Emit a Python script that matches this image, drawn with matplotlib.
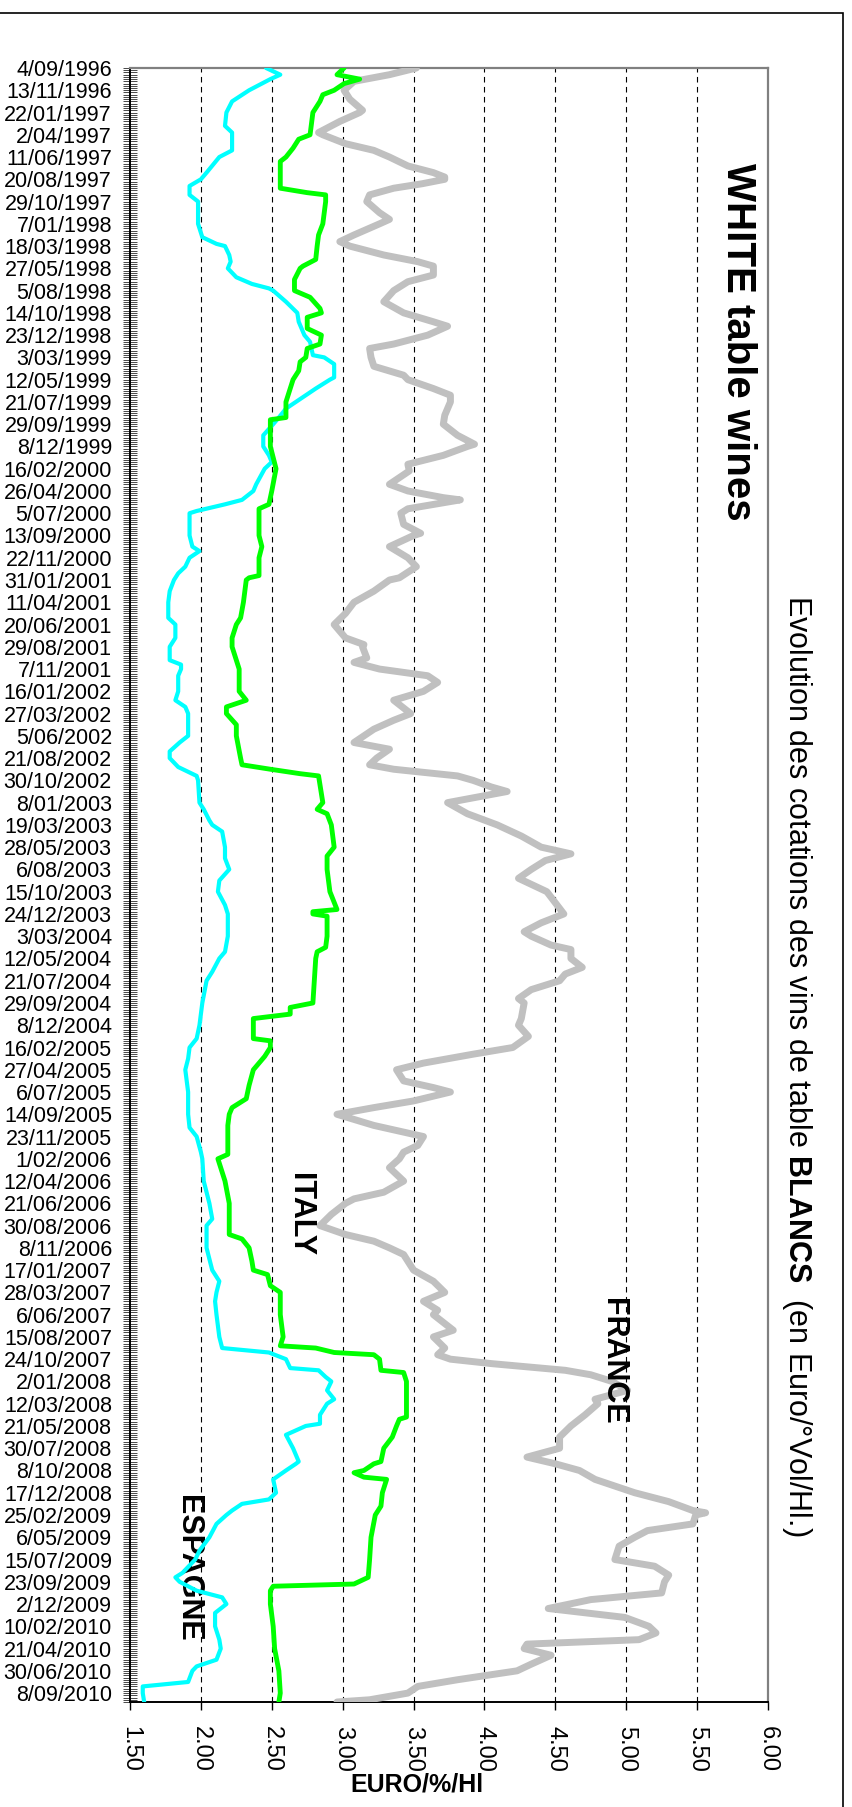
import matplotlib
matplotlib.use('Agg')
import numpy as np
import matplotlib.pyplot as plt
from matplotlib.patches import Rectangle
from matplotlib.ticker import FixedLocator, FormatStrFormatter

# ---------------- data ----------------
n_categories = 735  # weekly quotations, category axis
date_labels = [
    "4/09/1996", "13/11/1996", "22/01/1997", "2/04/1997", "11/06/1997", "20/08/1997",
    "29/10/1997", "7/01/1998", "18/03/1998", "27/05/1998", "5/08/1998", "14/10/1998",
    "23/12/1998", "3/03/1999", "12/05/1999", "21/07/1999", "29/09/1999", "8/12/1999",
    "16/02/2000", "26/04/2000", "5/07/2000", "13/09/2000", "22/11/2000", "31/01/2001",
    "11/04/2001", "20/06/2001", "29/08/2001", "7/11/2001", "16/01/2002", "27/03/2002",
    "5/06/2002", "21/08/2002", "30/10/2002", "8/01/2003", "19/03/2003", "28/05/2003",
    "6/08/2003", "15/10/2003", "24/12/2003", "3/03/2004", "12/05/2004", "21/07/2004",
    "29/09/2004", "8/12/2004", "16/02/2005", "27/04/2005", "6/07/2005", "14/09/2005",
    "23/11/2005", "1/02/2006", "12/04/2006", "21/06/2006", "30/08/2006", "8/11/2006",
    "17/01/2007", "28/03/2007", "6/06/2007", "15/08/2007", "24/10/2007", "2/01/2008",
    "12/03/2008", "21/05/2008", "30/07/2008", "8/10/2008", "17/12/2008", "25/02/2009",
    "6/05/2009", "15/07/2009", "23/09/2009", "2/12/2009", "10/02/2010", "21/04/2010",
    "30/06/2010", "8/09/2010",
]
label_step = 10
value_ticks = [1.5, 2.0, 2.5, 3.0, 3.5, 4.0, 4.5, 5.0, 5.5, 6.0]

espagne_idx = [0, 3, 5, 10, 15, 20, 26, 29, 37, 40, 47, 50, 53, 57, 60, 70, 76, 79, 80, 84,
               87, 90, 94, 97, 99, 100, 105, 110, 114, 120, 123, 129, 130, 133, 139, 140, 144,
               150, 153, 157, 160, 165, 170, 174, 177, 180, 187, 190, 194, 196, 199, 200, 210,
               215, 217, 220, 224, 227, 230, 235, 240, 247, 250, 256, 260, 266, 268, 270, 273,
               280, 284, 287, 290, 300, 303, 307, 310, 314, 318, 320, 330, 333, 338, 340, 343,
               350, 355, 360, 365, 370, 376, 380, 385, 390, 397, 400, 406, 410, 420, 430, 436,
               440, 445, 450, 460, 470, 476, 480, 487, 490, 500, 510, 517, 520, 530, 540, 545,
               550, 554, 560, 570, 575, 577, 580, 584, 585, 588, 590, 594, 598, 600, 605, 609,
               610, 614, 620, 626, 627, 630, 634, 640, 643, 645, 648, 650, 654, 660, 666, 670,
               676, 678, 680, 684, 687, 690, 694, 700, 706, 710, 715, 718, 720, 725, 727, 730, 734]
espagne_val = [2.46, 2.56, 2.49, 2.34, 2.22, 2.18, 2.17, 2.22, 2.22, 2.13, 2.04, 2.00, 1.92, 1.92,
               1.98, 1.98, 2.01, 2.11, 2.17, 2.20, 2.21, 2.19, 2.25, 2.36, 2.48, 2.51, 2.60, 2.68,
               2.69, 2.73, 2.77, 2.79, 2.87, 2.94, 2.94, 2.91, 2.81, 2.67, 2.60, 2.55, 2.51, 2.44,
               2.44, 2.48, 2.50, 2.45, 2.39, 2.37, 2.29, 2.17, 1.97, 1.92, 1.92, 1.94, 1.99, 1.92,
               1.89, 1.84, 1.81, 1.78, 1.77, 1.77, 1.82, 1.82, 1.78, 1.78, 1.86, 1.86, 1.84, 1.84,
               1.82, 1.89, 1.91, 1.91, 1.85, 1.78, 1.78, 1.84, 1.97, 1.98, 1.99, 2.02, 2.06, 2.08,
               2.15, 2.17, 2.17, 2.20, 2.13, 2.12, 2.17, 2.19, 2.19, 2.19, 2.17, 2.13, 2.08, 2.04,
               2.01, 1.99, 1.97, 1.92, 1.91, 1.89, 1.91, 1.91, 1.92, 1.97, 2.00, 2.01, 2.02, 2.06,
               2.08, 2.04, 2.04, 2.08, 2.13, 2.11, 2.10, 2.11, 2.13, 2.15, 2.48, 2.60, 2.63, 2.83,
               2.88, 2.92, 2.89, 2.94, 2.89, 2.84, 2.84, 2.74, 2.60, 2.65, 2.69, 2.67, 2.60, 2.51,
               2.53, 2.48, 2.29, 2.22, 2.18, 2.11, 2.06, 1.99, 1.96, 1.87, 1.82, 1.85, 1.97, 2.15,
               2.18, 2.10, 2.10, 2.13, 2.14, 2.11, 1.97, 1.94, 1.91, 1.59, 1.59, 1.60]

italy_idx = [0, 3, 5, 7, 10, 12, 15, 20, 30, 32, 36, 40, 42, 50, 54, 56, 57, 60, 70, 75, 80, 86,
             89, 90, 95, 100, 103, 108, 110, 112, 117, 120, 124, 126, 130, 132, 136, 140, 144, 150,
             157, 158, 170, 175, 180, 190, 196, 198, 210, 215, 220, 228, 229, 230, 240, 247, 250,
             256, 260, 270, 280, 284, 287, 290, 295, 300, 310, 313, 315, 317, 318, 330, 333, 335,
             340, 350, 354, 360, 370, 378, 379, 380, 381, 390, 395, 397, 400, 410, 420, 422, 425,
             427, 436, 437, 440, 444, 450, 457, 463, 467, 470, 475, 488, 490, 500, 510, 524, 526,
             530, 536, 540, 542, 547, 550, 560, 570, 574, 575, 577, 578, 580, 585, 586, 590, 606,
             607, 610, 615, 620, 626, 627, 630, 631, 633, 634, 640, 646, 650, 660, 670, 678, 681,
             682, 684, 690, 700, 710, 720, 730, 734]
italy_val = [3.01, 2.96, 3.12, 3.01, 2.94, 2.86, 2.84, 2.79, 2.77, 2.69, 2.65, 2.60, 2.56, 2.56,
             2.56, 2.75, 2.88, 2.88, 2.86, 2.83, 2.82, 2.81, 2.72, 2.70, 2.66, 2.66, 2.77, 2.84,
             2.85, 2.75, 2.75, 2.85, 2.84, 2.75, 2.74, 2.70, 2.69, 2.65, 2.63, 2.60, 2.60, 2.49,
             2.49, 2.51, 2.53, 2.50, 2.48, 2.41, 2.41, 2.43, 2.41, 2.41, 2.34, 2.32, 2.30, 2.28,
             2.25, 2.22, 2.22, 2.27, 2.27, 2.32, 2.18, 2.18, 2.25, 2.25, 2.28, 2.29, 2.49, 2.70,
             2.83, 2.86, 2.82, 2.89, 2.92, 2.94, 2.89, 2.89, 2.91, 2.96, 2.79, 2.79, 2.89, 2.89,
             2.88, 2.82, 2.81, 2.80, 2.79, 2.63, 2.63, 2.37, 2.37, 2.49, 2.49, 2.45, 2.37, 2.34,
             2.32, 2.22, 2.20, 2.19, 2.19, 2.12, 2.17, 2.20, 2.20, 2.29, 2.34, 2.36, 2.37, 2.47,
             2.49, 2.56, 2.56, 2.58, 2.56, 2.81, 2.94, 3.22, 3.26, 3.27, 3.43, 3.45, 3.45, 3.40,
             3.38, 3.35, 3.29, 3.27, 3.22, 3.15, 3.08, 3.15, 3.31, 3.28, 3.27, 3.23, 3.20, 3.19,
             3.18, 3.08, 2.51, 2.49, 2.49, 2.51, 2.52, 2.55, 2.56, 2.55]

france_idx = [0, 3, 6, 10, 14, 19, 20, 24, 29, 30, 34, 37, 40, 44, 47, 49, 50, 52, 54, 57, 60, 65,
              68, 70, 75, 78, 80, 84, 87, 89, 93, 96, 100, 105, 110, 114, 116, 120, 124, 126, 130,
              134, 138, 140, 144, 147, 150, 156, 160, 165, 169, 170, 174, 178, 181, 187, 190, 193,
              194, 198, 200, 205, 209, 210, 215, 220, 224, 229, 230, 235, 240, 245, 250, 256, 259,
              260, 265, 267, 270, 273, 276, 280, 284, 290, 293, 297, 300, 303, 306, 310, 313, 315,
              318, 320, 323, 325, 330, 335, 340, 345, 350, 353, 356, 360, 364, 370, 375, 380, 384,
              388, 390, 394, 396, 400, 404, 407, 410, 414, 418, 420, 427, 430, 435, 440, 443, 447,
              450, 455, 458, 460, 464, 467, 470, 475, 480, 484, 487, 490, 494, 500, 505, 508, 510,
              515, 520, 524, 527, 530, 533, 540, 545, 550, 554, 558, 560, 567, 570, 575, 578, 580,
              582, 585, 587, 590, 594, 598, 600, 605, 610, 615, 620, 624, 627, 630, 634, 640, 644,
              648, 649, 650, 654, 657, 660, 664, 670, 673, 677, 680, 685, 688, 692, 696, 700, 703,
              706, 708, 710, 713, 717, 720, 724, 727, 730, 733, 734]
france_val = [3.52, 3.33, 3.08, 3.01, 3.05, 3.14, 3.12, 2.98, 2.83, 2.86, 3.02, 3.22, 3.33, 3.46,
              3.64, 3.72, 3.72, 3.56, 3.36, 3.19, 3.17, 3.26, 3.33, 3.26, 3.08, 2.98, 3.05, 3.29,
              3.53, 3.64, 3.64, 3.46, 3.36, 3.29, 3.43, 3.64, 3.74, 3.60, 3.36, 3.19, 3.20, 3.22,
              3.43, 3.46, 3.64, 3.76, 3.76, 3.72, 3.71, 3.81, 3.93, 3.88, 3.71, 3.46, 3.47, 3.33,
              3.46, 3.71, 3.83, 3.46, 3.41, 3.43, 3.55, 3.50, 3.33, 3.46, 3.52, 3.40, 3.33, 3.22,
              3.08, 3.02, 2.94, 3.02, 3.15, 3.14, 3.17, 3.08, 3.26, 3.60, 3.67, 3.57, 3.36, 3.48,
              3.36, 3.22, 3.15, 3.08, 3.33, 3.24, 3.19, 3.36, 3.81, 3.92, 4.05, 4.16, 3.74, 3.88,
              4.09, 4.26, 4.40, 4.61, 4.43, 4.33, 4.24, 4.44, 4.50, 4.56, 4.40, 4.28, 4.33, 4.47,
              4.61, 4.61, 4.69, 4.57, 4.53, 4.33, 4.24, 4.28, 4.26, 4.24, 4.31, 4.20, 3.92, 3.57,
              3.38, 3.43, 3.64, 3.76, 3.50, 3.22, 2.96, 3.22, 3.57, 3.53, 3.43, 3.40, 3.33, 3.43,
              3.29, 3.08, 3.02, 2.92, 2.84, 3.02, 3.22, 3.33, 3.43, 3.50, 3.64, 3.72, 3.57, 3.67,
              3.64, 3.78, 3.64, 3.72, 3.67, 3.76, 4.05, 4.57, 4.75, 4.90, 5.01, 4.78, 4.80, 4.71,
              4.61, 4.53, 4.53, 4.30, 4.50, 4.67, 4.78, 5.06, 5.30, 5.47, 5.56, 5.49, 5.47, 5.15,
              5.06, 4.95, 4.92, 5.20, 5.30, 5.27, 5.25, 4.75, 4.45, 4.99, 5.16, 5.21, 5.09, 4.30,
              4.28, 4.47, 4.33, 4.23, 3.81, 3.53, 3.46, 3.19, 2.96]

# ---------------- style ----------------
plt.rcParams['font.family'] = ['Liberation Sans', 'DejaVu Sans']
plt.rcParams['mathtext.fontset'] = 'custom'
plt.rcParams['mathtext.rm'] = 'Liberation Sans'
plt.rcParams['mathtext.bf'] = 'Liberation Sans:bold'

W, H = 852, 1807
fig = plt.figure(figsize=(W / 100, H / 100), dpi=100)
ax_l, ax_r, ax_t, ax_b = 130, 768, 68, 1702
ax = fig.add_axes([ax_l / W, 1 - ax_b / H, (ax_r - ax_l) / W, (ax_b - ax_t) / H])

# gridlines
for v in value_ticks[1:-1]:
    ax.axvline(v, color='black', lw=0.8, ls=(0, (5, 4)), zorder=1)

ax.plot(france_val, france_idx, color='#C0C0C0', lw=5.0, solid_joinstyle='round',
        solid_capstyle='round', zorder=3)
ax.plot(espagne_val, espagne_idx, color='#00FFFF', lw=3.0, solid_joinstyle='round',
        solid_capstyle='round', zorder=4)
ax.plot(italy_val, italy_idx, color='#00FF00', lw=3.5, solid_joinstyle='round',
        solid_capstyle='round', zorder=5)

ax.set_xlim(value_ticks[0], value_ticks[-1])
ax.set_ylim(n_categories - 1, 0)

# value axis (bottom)
ax.xaxis.set_major_locator(FixedLocator(value_ticks))
ax.xaxis.set_major_formatter(FormatStrFormatter('%.2f'))
ax.tick_params(axis='x', direction='out', length=6, width=1, labelsize=17, pad=11,
               labelrotation=270)

# category axis (left)
major_pos = list(range(0, label_step * len(date_labels), label_step))
ax.yaxis.set_major_locator(FixedLocator(major_pos))
ax.yaxis.set_minor_locator(FixedLocator(list(range(n_categories))))
ax.set_yticklabels(date_labels)
ax.tick_params(axis='y', which='both', direction='inout', length=10, width=0.5,
               labelsize=15.5, pad=8)

for s in ['top', 'right']:
    ax.spines[s].set_color('#808080')
    ax.spines[s].set_linewidth(1.6)
for s in ['left', 'bottom']:
    ax.spines[s].set_color('black')
    ax.spines[s].set_linewidth(1.4)

# labels inside the plot
ax.text(5.79, 123, 'WHITE table wines', rotation=270, fontsize=29, fontweight='bold',
        ha='center', va='center')
ax.text(2.70, 515, 'ITALY', rotation=270, fontsize=22, fontweight='bold',
        ha='center', va='center')
ax.text(4.91, 581, 'FRANCE', rotation=270, fontsize=22, fontweight='bold',
        ha='center', va='center')
ax.text(1.91, 674, 'ESPAGNE', rotation=270, fontsize=22, fontweight='bold',
        ha='center', va='center')

fig.text(797 / W, 1 - 1066 / H,
         'Evolution des cotations des vins de table $\\mathbf{BLANCS}$  (en Euro/°Vol/Hl.)',
         rotation=270, fontsize=22, ha='center', va='center')
fig.text(417 / W, 1 - 1785 / H, 'EURO/%/Hl', fontsize=18, fontweight='bold',
         ha='center', va='center')

# outer frame
fig.add_artist(Rectangle((-0.01, -0.01), 843 / W + 0.01, 1 - 13 / H + 0.01,
                         transform=fig.transFigure, fill=False, edgecolor='black', lw=1.2))

fig.savefig('out.png', dpi=100)
